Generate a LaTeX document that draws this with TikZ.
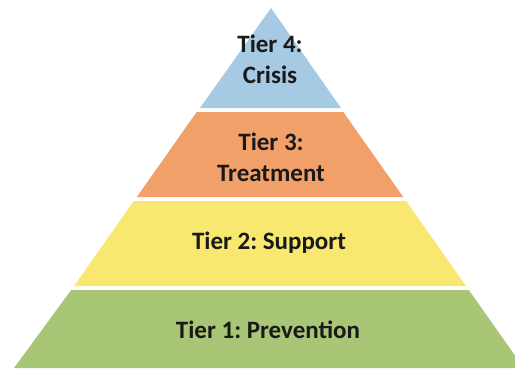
\documentclass[tikz,border=0pt]{standalone}
\usepackage{fontspec}
\setmainfont{Carlito}
\usepackage{tikz}
\definecolor{crisisblue}{RGB}{166,201,228}
\definecolor{treatorange}{RGB}{241,160,106}
\definecolor{supportyellow}{RGB}{249,232,112}
\definecolor{preventgreen}{RGB}{168,198,118}
\tikzset{
   tier/.style={draw=none},
   tierlabel/.style={font=\fontsize{25}{31}\selectfont\bfseries\frenchspacing, text=black!90,
      align=center, inner sep=0pt},
    }

\begin{document}
\begin{tikzpicture}[x=1pt,y=-1pt]
            \useasboundingbox (0,0) rectangle (515,368);
            \fill[white] (0,0) rectangle (515,368);
            \begin{scope}
            \clip (0,0) rectangle (515,368);
            \fill[tier, preventgreen](71.2,290)--(468.8,290)--(523.8,368)--(14,368)--cycle;
            \fill[tier, supportyellow](133.9,201)--(406.1,201)--(466,286)--(74,286)--cycle;
            \fill[tier, treatorange](196.7,112)--(343.3,112)--(403.2,197)--(136.8,197)--cycle;
            \fill[tier, crisisblue](271,8)--(341,108)--(200,108)--cycle;
            \end{scope}
            \node[tierlabel] (crisis) at (270,59) {Tier 4:\\Crisis};
            \node[tierlabel] (treatment) at (271,157) {Tier 3:\\Treatment};
            \node[tierlabel] (support) at (269,243) {Tier 2: Support};
            \node[tierlabel] (prevention) at (268,330) {Tier 1: Prevention};
        \end{tikzpicture}
\end{document}
